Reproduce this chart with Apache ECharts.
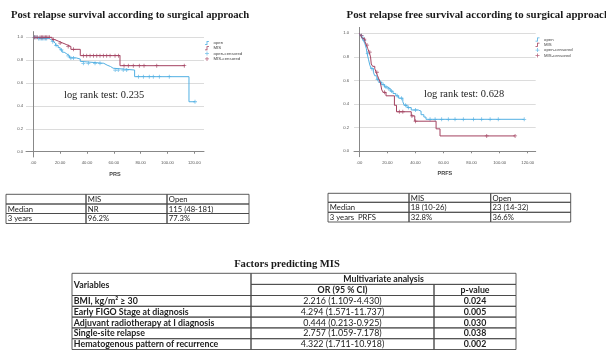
<!DOCTYPE html>
<html><head><meta charset="utf-8">
<script src="https://cdn.jsdelivr.net/npm/echarts@6/dist/echarts.min.js"></script>
<style>html,body{margin:0;padding:0;background:#fff}#c{width:606px;height:351px}</style>
</head><body><div id="c"></div><script>
// ---------- DATA ----------
const seriesNames = ['open', 'MIS', 'open-censored', 'MIS-censored'];
const xTicks = [0, 20, 40, 60, 80, 100, 120];
const yTicks = [0, 0.2, 0.4, 0.6, 0.8, 1.0];

// Post relapse survival (PRS)
const prsOpenT = [0, 3, 12, 13.5, 15, 16.5, 18.5, 20, 21.5, 23, 25, 27, 32, 35, 36, 52.5, 55, 57.5, 59.5, 75.5, 116, 120.5];
const prsOpenS = [1.0, 0.99, 0.976, 0.962, 0.948, 0.93, 0.91, 0.89, 0.87, 0.855, 0.838, 0.82, 0.81, 0.79, 0.773, 0.757, 0.745, 0.73, 0.714, 0.656, 0.437, 0.437];
const prsMisT = [0, 14, 16, 19, 22, 25, 28, 35, 64.6, 113];
const prsMisS = [1.0, 0.98, 0.965, 0.95, 0.935, 0.92, 0.895, 0.84, 0.752, 0.752];
const prsOpenCensT = [1, 2, 4, 5, 6, 7, 8, 9, 10, 14.5, 17, 21, 26, 28, 30, 37.3, 41, 46, 49.7, 61, 63.3, 67, 69.6, 78.3, 82, 86.4, 89.4, 93.9, 101.3, 120.5];
const prsOpenCensS = [1, 1, 0.99, 0.99, 0.99, 0.99, 0.99, 0.99, 0.99, 0.962, 0.93, 0.89, 0.838, 0.82, 0.82, 0.773, 0.773, 0.773, 0.773, 0.714, 0.714, 0.714, 0.714, 0.656, 0.656, 0.656, 0.656, 0.656, 0.656, 0.437];
const prsMisCensT = [1, 2, 3, 5, 6, 7, 8, 9, 10, 11, 12, 15, 20, 26, 30, 37.3, 39.8, 42.3, 44.8, 47.3, 49.7, 52.2, 54.7, 57.2, 60.9, 63.4, 67.6, 70.8, 74.5, 79, 82.5, 92, 112.5];
const prsMisCensS = [1, 1, 1, 1, 1, 1, 1, 1, 1, 1, 1, 0.98, 0.95, 0.92, 0.895, 0.84, 0.84, 0.84, 0.84, 0.84, 0.84, 0.84, 0.84, 0.84, 0.84, 0.84, 0.752, 0.752, 0.752, 0.752, 0.752, 0.752, 0.752];

// Post relapse free survival (PRFS)
const prfsOpenT = [0, 1, 2, 3, 4, 5, 5.5, 6.5, 7.5, 8.5, 10, 11, 12.5, 14, 16, 18, 20, 22, 24, 26, 28, 31, 32, 34, 37, 42, 44, 46, 47.5, 117.5];
const prfsOpenS = [1.0, 0.98, 0.96, 0.94, 0.91, 0.87, 0.83, 0.78, 0.73, 0.70, 0.67, 0.64, 0.61, 0.585, 0.565, 0.545, 0.53, 0.51, 0.49, 0.47, 0.45, 0.42, 0.39, 0.37, 0.35, 0.34, 0.31, 0.29, 0.271, 0.271];
const prfsMisT = [0, 1, 2, 3, 4, 5, 6, 7, 8, 8.5, 9.5, 11, 12, 13, 14, 15, 16, 17, 19, 25, 26.5, 37, 39.5, 54.7, 57.5, 111];
const prfsMisS = [1.0, 0.98, 0.96, 0.95, 0.93, 0.90, 0.87, 0.84, 0.80, 0.74, 0.72, 0.70, 0.67, 0.64, 0.61, 0.58, 0.52, 0.50, 0.47, 0.39, 0.335, 0.30, 0.255, 0.19, 0.13, 0.13];
const prfsOpenCensT = [1.5, 2.5, 3.5, 6, 9, 13, 15, 17, 19, 21, 23, 27, 30, 33, 35, 40, 50.4, 54, 58.7, 63.4, 68.2, 74.1, 81.3, 87.2, 93.2, 99, 117.5];
const prfsOpenCensS = [0.98, 0.96, 0.94, 0.83, 0.70, 0.61, 0.585, 0.565, 0.545, 0.53, 0.51, 0.47, 0.45, 0.39, 0.37, 0.35, 0.271, 0.271, 0.271, 0.271, 0.271, 0.271, 0.271, 0.271, 0.271, 0.271, 0.271];
const prfsMisCensT = [1.5, 3.5, 5.5, 7.5, 12.5, 18, 28.5, 31, 37.5, 40, 90.8, 111];
const prfsMisCensS = [0.98, 0.95, 0.90, 0.84, 0.67, 0.50, 0.335, 0.335, 0.30, 0.255, 0.13, 0.13];

// Texts
const titleLeft = 'Post relapse survival according to surgical approach';
const titleRight = 'Post relapse free survival according to surgical approach';
const logRankLeft = 'log rank test: 0.235';
const logRankRight = 'log rank test: 0.628';
const xNameLeft = 'PRS';
const xNameRight = 'PRFS';

// Tables
const t1Header = ['', 'MIS', 'Open'];
const t1Rows = [['Median', 'NR', '115 (48-181)'], ['3 years', '96.2%', '77.3%']];
const t2Header = ['', 'MIS', 'Open'];
const t2Rows = [['Median', '18 (10-26)', '23 (14-32)'], ['3 years  PRFS', '32.8%', '36.6%']];
const t3Title = 'Factors predicting MIS';
const t3Head = ['Variables', 'Multivariate analysis', 'OR (95 % CI)', 'p-value'];
const t3Vars = ['BMI, kg/m² ≥ 30', 'Early FIGO Stage at diagnosis', 'Adjuvant radiotherapy at I diagnosis', 'Single-site relapse', 'Hematogenous pattern of recurrence'];
const t3OR = ['2.216 (1.109-4.430)', '4.294 (1.571-11.737)', '0.444 (0.213-0.925)', '2.757 (1.059-7.178)', '4.322 (1.711-10.918)'];
const t3P = ['0.024', '0.005', '0.030', '0.038', '0.002'];

// ---------- STYLE ----------
const BLUE = '#52b0e3', RED = '#a3415f';
const plusIcon = 'path://M4,0H6V4H10V6H6V10H4V6H0V4H4Z';
const stepIcon = 'path://M0,8H4V0H10V2H6V10H0Z';
const zip = (a, b) => a.map((v, i) => [v, b[i]]);

function axes(gi, xmin, xmax, name, yLabelMargin) {
  return {
    x: {
      type: 'value', gridIndex: gi, min: xmin, max: xmax,
      name: name, nameLocation: 'middle', nameGap: 14,
      nameTextStyle: { fontSize: 5.5, fontWeight: 'bold', color: '#444', fontFamily: 'Liberation Sans' },
      axisLine: { show: true, lineStyle: { color: '#888', width: 1 } },
      axisTick: { show: true, length: 2, customValues: xTicks, lineStyle: { color: '#888' } },
      axisLabel: { customValues: xTicks, fontSize: 4.2, color: '#555', margin: 4, fontFamily: 'Liberation Sans',
        formatter: v => v === 0 ? '.00' : v.toFixed(2) },
      splitLine: { show: false }
    },
    y: {
      type: 'value', gridIndex: gi, min: -0.046, max: 1.05,
      axisLine: { show: true, lineStyle: { color: '#888', width: 1 } },
      axisTick: { show: false, customValues: yTicks },
      axisLabel: { customValues: yTicks, fontSize: 4.2, color: '#555', margin: yLabelMargin, fontFamily: 'Liberation Sans',
        formatter: v => v.toFixed(1) },
      splitLine: { show: true, lineStyle: { color: '#dcdcdc', width: 1 } }
    }
  };
}
const a0 = axes(0, -5.44, 127.2, xNameLeft, 3);
const a1 = axes(1, -3.8, 125.7, xNameRight, 5);

function kmSeries(gi, oT, oS, mT, mS, ocT, ocS, mcT, mcS) {
  const line = (name, data, color) => ({
    name, type: 'line', xAxisIndex: gi, yAxisIndex: gi, step: 'end', data,
    symbol: 'none', lineStyle: { color, width: 1 }, itemStyle: { color }, animation: false, silent: true
  });
  const cens = (name, data, color) => ({
    name, type: 'scatter', xAxisIndex: gi, yAxisIndex: gi, data, symbol: plusIcon, symbolSize: 4,
    itemStyle: { color }, animation: false, silent: true
  });
  return [
    line('open', zip(oT, oS), BLUE),
    line('MIS', zip(mT, mS), RED),
    cens('open-censored', zip(ocT, ocS), BLUE),
    cens('MIS-censored', zip(mcT, mcS), RED)
  ];
}

function legendAt(left, top) {
  return {
    left, top, orient: 'vertical', itemWidth: 7, itemHeight: 4, itemGap: 1.3, padding: 0,
    selectedMode: false,
    textStyle: { fontSize: 4.3, color: '#444', fontFamily: 'Liberation Sans', padding: [0, 0, 0, -2] },
    data: [
      { name: 'open', icon: stepIcon, itemStyle: { color: BLUE } },
      { name: 'MIS', icon: stepIcon, itemStyle: { color: RED } },
      { name: 'open-censored', icon: plusIcon, itemStyle: { color: BLUE } },
      { name: 'MIS-censored', icon: plusIcon, itemStyle: { color: RED } }
    ]
  };
}

// ---------- TABLES (graphic) ----------
const FONT = 'Lato';
const STROKE = '#4a4a4a';
function cellRect(x0, y0, x1, y1) {
  return { type: 'rect', shape: { x: x0, y: y0, width: x1 - x0, height: y1 - y0 },
    style: { fill: 'none', stroke: STROKE, lineWidth: 0.9 }, silent: true };
}
function cellText(txt, x0, y0, x1, y1, align, bold, size) {
  const x = align === 'center' ? (x0 + x1) / 2 : x0 + 1.8;
  return { type: 'text', x, y: (y0 + y1) / 2 + 0.3, silent: true,
    style: { text: txt, fill: '#222', align, verticalAlign: 'middle',
      font: (bold ? 'bold ' : '') + size + 'px ' + FONT } };
}
function simpleTable(colX, rowY, header, rows) {
  const els = [];
  const all = [header].concat(rows);
  all.forEach((r, ri) => r.forEach((txt, ci) => {
    els.push(cellRect(colX[ci], rowY[ri], colX[ci + 1], rowY[ri + 1]));
    if (txt) els.push(cellText(txt, colX[ci], rowY[ri], colX[ci + 1], rowY[ri + 1], 'left', false, 7.7));
  }));
  return els;
}
const t3ColX = [72, 251, 434, 516];
const t3RowY = [273.3, 284.4, 295.5, 306.3, 317.1, 327.9, 338.7, 349.5];
function bigTable() {
  const els = [];
  const C = t3ColX, R = t3RowY, fs = 8.8, fr = 8.9;
  els.push(cellRect(C[0], R[0], C[1], R[2]));
  els.push(cellText(t3Head[0], C[0], R[0], C[1], R[2], 'left', true, fs));
  els.push(cellRect(C[1], R[0], C[3], R[1]));
  els.push(cellText(t3Head[1], C[1], R[0], C[3], R[1], 'center', true, fs));
  els.push(cellRect(C[1], R[1], C[2], R[2]));
  els.push(cellText(t3Head[2], C[1], R[1], C[2], R[2], 'center', true, fs));
  els.push(cellRect(C[2], R[1], C[3], R[2]));
  els.push(cellText(t3Head[3], C[2], R[1], C[3], R[2], 'center', true, fs));
  t3Vars.forEach((v, i) => {
    const y0 = R[i + 2], y1 = R[i + 3];
    els.push(cellRect(C[0], y0, C[1], y1));
    els.push(cellText(v, C[0], y0, C[1], y1, 'left', true, fs));
    els.push(cellRect(C[1], y0, C[2], y1));
    els.push(cellText(t3OR[i], C[1], y0, C[2], y1, 'center', false, fr));
    els.push(cellRect(C[2], y0, C[3], y1));
    els.push(cellText(t3P[i], C[2], y0, C[3], y1, 'center', true, fs));
  });
  return els;
}

const serif = 'Liberation Serif';
const graphics = [].concat(
  [
    { type: 'text', x: 11, y: 15, silent: true, style: { text: titleLeft, font: 'bold 10.7px "' + serif + '"', fill: '#1a1a1a', verticalAlign: 'middle' } },
    { type: 'text', x: 346.5, y: 15, silent: true, style: { text: titleRight, font: 'bold 10.9px "' + serif + '"', fill: '#1a1a1a', verticalAlign: 'middle' } },
    { type: 'text', x: 64, y: 95, silent: true, style: { text: logRankLeft, font: '10.4px "' + serif + '"', fill: '#222', verticalAlign: 'middle' } },
    { type: 'text', x: 424, y: 94.5, silent: true, style: { text: logRankRight, font: '10.4px "' + serif + '"', fill: '#222', verticalAlign: 'middle' } },
    { type: 'text', x: 287, y: 264, silent: true, style: { text: t3Title, font: 'bold 10.6px "' + serif + '"', fill: '#1a1a1a', align: 'center', verticalAlign: 'middle' } }
  ],
  simpleTable([6, 86, 167, 249], [194.3, 204, 213.5, 223.5], t1Header, t1Rows),
  simpleTable([328, 409, 490.7, 570.7], [193.3, 202.3, 212.3, 222], t2Header, t2Rows),
  bigTable()
);

const option = {
  backgroundColor: '#fff',
  animation: false,
  grid: [
    { left: 26, top: 31.6, width: 178, height: 125.4 },
    { left: 354, top: 27.4, width: 181.7, height: 129.3 }
  ],
  xAxis: [a0.x, a1.x],
  yAxis: [a0.y, a1.y],
  legend: [legendAt(205, 41), legendAt(535.5, 37.5)],
  series: [].concat(
    kmSeries(0, prsOpenT, prsOpenS, prsMisT, prsMisS, prsOpenCensT, prsOpenCensS, prsMisCensT, prsMisCensS),
    kmSeries(1, prfsOpenT, prfsOpenS, prfsMisT, prfsMisS, prfsOpenCensT, prfsOpenCensS, prfsMisCensT, prfsMisCensS)
  ),
  graphic: { elements: graphics }
};
const chart = echarts.init(document.getElementById('c'), null, { renderer: 'canvas' });
chart.setOption(option);
</script></body></html>
